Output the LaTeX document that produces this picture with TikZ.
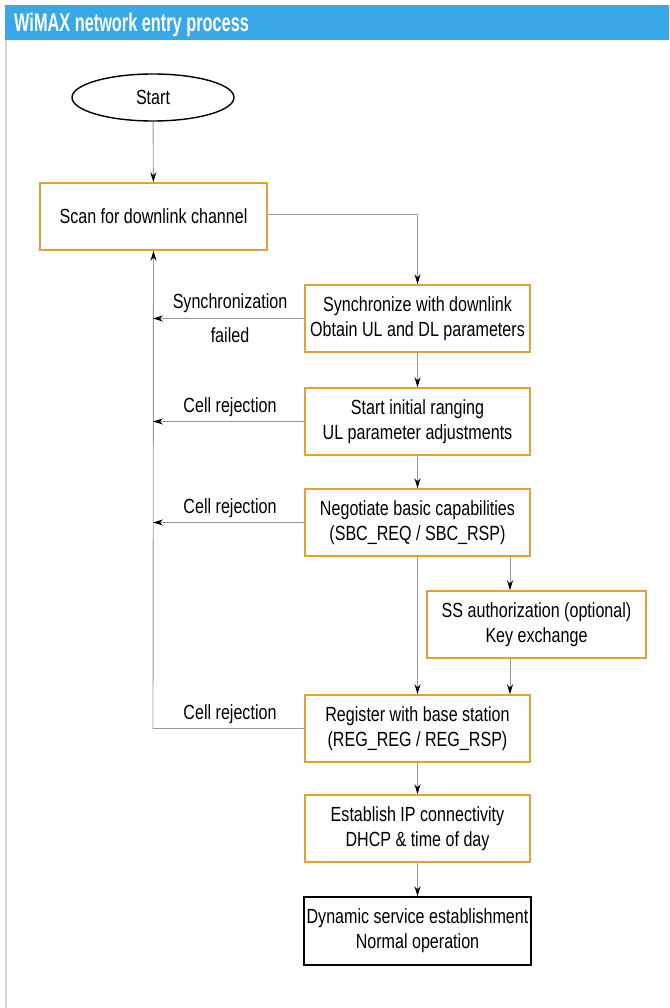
\documentclass[tikz,border=0pt]{standalone}
\usepackage{fontspec}
\setmainfont{Liberation Sans}[FakeStretch=0.785]
\newfontfamily\titlefont{Liberation Sans}[FakeStretch=0.64]
\usetikzlibrary{arrows.meta,shapes.geometric}
\definecolor{titleblue}{HTML}{38A8E8}
\definecolor{boxorange}{HTML}{E2A132}
\definecolor{linegray}{HTML}{999999}
\definecolor{framegray}{HTML}{D4D4D4}
\tikzset{
  txt/.style={font=\fontsize{20.5}{25}\selectfont},
  stepbox/.style={txt, draw=boxorange, line width=1.6pt, fill=white, minimum width=225pt, minimum height=67pt, align=center, inner sep=0pt},
  endbox/.style={stepbox, draw=black},
  conn/.style={draw=linegray, line width=0.9pt},
  arr/.style={conn, -{Stealth[length=10pt,width=6pt,color=black]}},
  lbl/.style={txt}
}
\begin{document}
\begin{tikzpicture}[x=1pt,y=-1pt]
\useasboundingbox (0,0) rectangle (669,1008);
% frame and title
\fill[titleblue] (5,5) rectangle (669,40);
\draw[framegray, line width=1.6pt] (6,40) -- (6,1008);
\node[anchor=base west, text=white, inner sep=0pt, font=\titlefont\fontsize{25.5}{28}\selectfont\bfseries] (title) at (14,32) {WiMAX network entry process};
% nodes
\node[txt, draw=black, line width=1.4pt, ellipse, minimum width=162pt, minimum height=47pt, inner sep=0pt] (start) at (153,97.5) {Start};
\node[stepbox, minimum width=227pt] (scan) at (153.5,216.5) {Scan for downlink channel};
\node[stepbox] (sync) at (417.5,318.5) {Synchronize with downlink\\Obtain UL and DL parameters};
\node[stepbox] (rang) at (417.5,421.5) {Start initial ranging\\UL parameter adjustments};
\node[stepbox] (neg) at (417.5,522.5) {Negotiate basic capabilities\\(SBC\_REQ / SBC\_RSP)};
\node[stepbox, minimum width=219pt] (ss) at (536.5,624.5) {SS authorization (optional)\\Key exchange};
\node[stepbox] (reg) at (417.5,728.5) {Register with base station\\(REG\_REG / REG\_RSP)};
\node[stepbox] (est) at (417.5,828.5) {Establish IP connectivity\\DHCP \& time of day};
\node[endbox, minimum width=227pt, minimum height=68pt] (dyn) at (417.5,931) {Dynamic service establishment\\Normal operation};
% helper coordinates
\coordinate (fb) at (153,0);
\coordinate (sx) at (510,0);
% main flow
\draw[arr] (start) -- (scan);
\draw[arr] ([yshift=2.5pt]scan.east) -| (sync.north);
\draw[arr] (sync) -- (rang);
\draw[arr] (rang) -- (neg);
\draw[arr] (neg.south) -- (reg.north);
\draw[arr] (neg.south -| sx) -- (ss.north -| sx);
\draw[arr] (ss.south -| sx) -- (reg.north -| sx);
\draw[arr] (reg) -- (est);
\draw[arr] (est) -- (dyn);
% feedback
\draw[arr] (reg.west) -- (reg.west -| fb) -- (scan.south);
\draw[arr] (sync.west) -- (sync.west -| fb);
\draw[arr] (rang.west) -- (rang.west -| fb);
\draw[arr] (neg.west) -- (neg.west -| fb);
% labels
\node[lbl] (l1) at (230,303) {Synchronization};
\node[lbl] (l1b) at (230,335) {failed};
\node[lbl] (l2) at (230,407) {Cell rejection};
\node[lbl] (l3) at (230,508) {Cell rejection};
\node[lbl] (l4) at (230,714) {Cell rejection};
\end{tikzpicture}
\end{document}
